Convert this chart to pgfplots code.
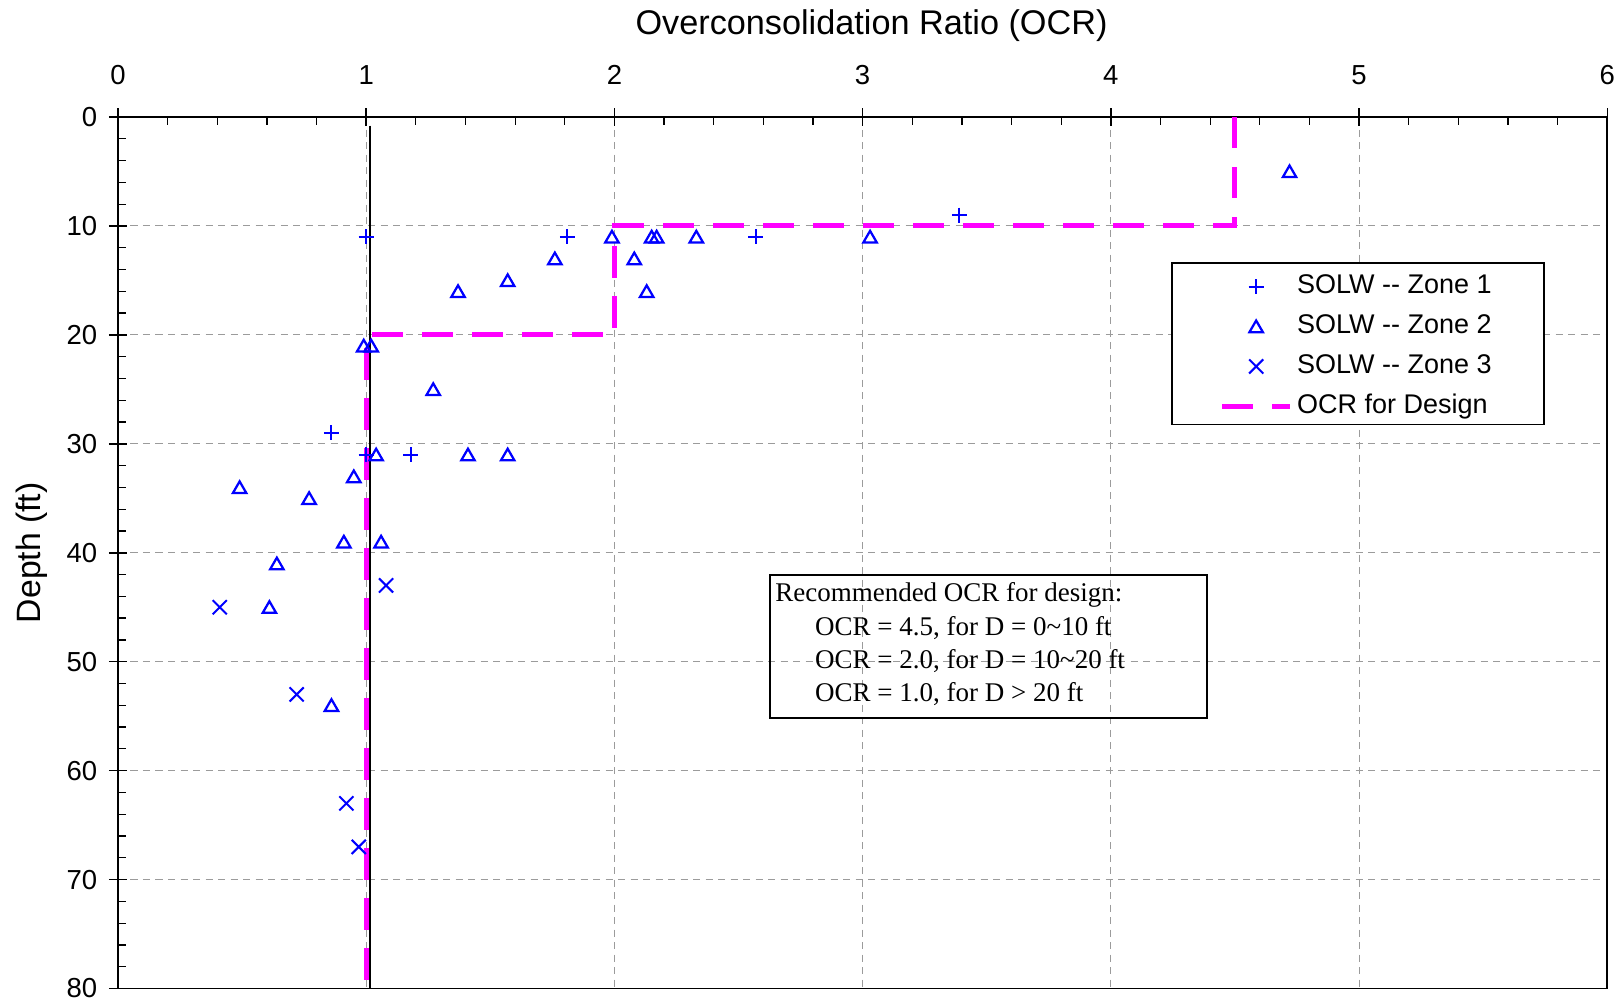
\documentclass[border=0pt]{standalone}
\usepackage{fontspec}
\setmainfont{Liberation Sans}
\newfontfamily\seriffont{Liberation Serif}
\usepackage{pgfplots}
\pgfplotsset{compat=1.18}
\definecolor{gridgray}{RGB}{155,155,155}
\definecolor{mkblue}{RGB}{0,0,255}
\definecolor{ocrmag}{RGB}{255,0,255}

\begin{document}
\begin{tikzpicture}
\path[use as bounding box] (-47.2pt,-5.84pt) rectangle (602pt,395.4pt);
\begin{axis}[
  scale only axis, width=595.7pt, height=348.6pt,
  xmin=0, xmax=6, ymin=0, ymax=80, y dir=reverse,
  xtick={0,...,6}, ytick={0,10,...,80},
  minor x tick num=4, minor y tick num=4,
  xtick pos=right, xticklabel pos=right,
  ytick pos=left, yticklabel pos=left,
  tick align=inside, major tick length=3.6pt, minor tick length=3.2pt,
  every tick/.style={black, line width=0.6pt},
  minor tick style={black, line width=0.5pt},
  extra x ticks={0,1,2,3,4,5,6}, extra x tick labels={,,,,,,},
  extra y ticks={0,10,20,30,40,50,60,70,80}, extra y tick labels={,,,,,,,,},
  extra x tick style={grid=none, tick align=outside, major tick length=3.6pt},
  extra y tick style={grid=none, tick align=outside, major tick length=3.6pt},
  axis line style={black, line width=0.7pt},
  grid=major,
  grid style={gridgray, line width=0.4pt, dash pattern=on 2.9pt off 2.1pt},
  /pgf/number format/assume math mode=true,
  tick label style={font=\fontsize{11}{13}\selectfont},
  xticklabel style={yshift=9.5pt},
  yticklabel style={xshift=-4.8pt},
  xlabel={Overconsolidation Ratio (OCR)},
  xlabel style={at={(axis description cs:0.506,1.1045)}, anchor=center, font=\fontsize{13.7}{16}\selectfont},
  ylabel={Depth (ft)},
  ylabel style={at={(axis description cs:-0.0576,0.5)}, anchor=center, rotate=0, font=\fontsize{13.5}{16}\selectfont},
  legend style={at={(axis description cs:0.7075,0.8325)}, anchor=north west, yshift=-1.2pt,
    draw=none, fill=none,
    font=\fontsize{10.8}{13}\selectfont,
    inner xsep=19pt, inner ysep=3.1pt, row sep=6.15pt,
    nodes={inner xsep=1.8pt, inner ysep=0pt, text depth=2.3pt}},
  legend cell align=left,
  legend image code/.code={%
    \path (0pt,0pt) (27.2pt,0pt);
    \draw[mark repeat=2,mark phase=2] plot coordinates {(0pt,0pt) (13.6pt,0pt) (27.2pt,0pt)};},
]
% design OCR line
\addplot[ocrmag, line width=2pt, dash pattern=on 12.5pt off 7.5pt, forget plot]
  coordinates {(4.5,0) (4.5,10) (2,10) (2,20) (1,20) (1,80)};
% reference line OCR = 1
\addplot[black, line width=0.8pt, forget plot] coordinates {(1.017,0.8) (1.017,80)};

% Zone 1
\addplot[only marks, mkblue, mark=+, mark size=3pt, line width=0.8pt] coordinates {
 (1.00,11) (1.81,11) (2.57,11) (3.39,9) (0.86,29) (1.00,31) (1.18,31)
};
\addlegendentry{SOLW -\kern0pt- Zone 1}
% Zone 2
\addplot[only marks, mkblue, mark=triangle, mark size=3.1pt, line width=0.9pt,
  mark options={yshift=-0.7pt}] coordinates {
 (4.72,5) (1.99,11) (2.15,11) (2.17,11) (2.33,11) (3.03,11)
 (1.76,13) (2.08,13) (1.57,15) (1.37,16) (2.13,16)
 (0.99,21) (1.02,21) (1.27,25)
 (1.04,31) (1.41,31) (1.57,31) (0.95,33) (0.49,34) (0.77,35)
 (0.91,39) (1.06,39) (0.64,41) (0.61,45) (0.86,54)
};
\addlegendentry{SOLW -\kern0pt- Zone 2}
% Zone 3
\addplot[only marks, mkblue, mark=x, mark size=4pt, line width=0.8pt] coordinates {
 (1.08,43) (0.41,45) (0.72,53) (0.92,63) (0.97,67)
};
\addlegendentry{SOLW -\kern0pt- Zone 3}
\addlegendimage{ocrmag, line width=2pt, dash pattern=on 12.5pt off 7.5pt}
\addlegendentry{OCR for Design}

% legend frame
\draw[black, line width=0.6pt, fill=white] (axis cs:4.2466,13.40) rectangle (axis cs:5.7454,28.22);

% annotation box
\draw[black, line width=0.8pt] (axis cs:2.6257,42.05) rectangle (axis cs:4.386,55.18);
\node[anchor=base west, inner sep=0pt, font=\seriffont\fontsize{10.8}{13}\selectfont]
  at (axis cs:2.646,44.5) {Recommended OCR for design:};
\node[anchor=base west, inner sep=0pt, font=\seriffont\fontsize{10.8}{13}\selectfont]
  at (axis cs:2.807,47.62) {OCR = 4.5, for D = 0\textasciitilde10 ft};
\node[anchor=base west, inner sep=0pt, font=\seriffont\fontsize{10.8}{13}\selectfont]
  at (axis cs:2.807,50.64) {OCR = 2.0, for D = 10\textasciitilde20 ft};
\node[anchor=base west, inner sep=0pt, font=\seriffont\fontsize{10.8}{13}\selectfont]
  at (axis cs:2.807,53.62) {OCR = 1.0, for D > 20 ft};
\end{axis}
\end{tikzpicture}
\end{document}
